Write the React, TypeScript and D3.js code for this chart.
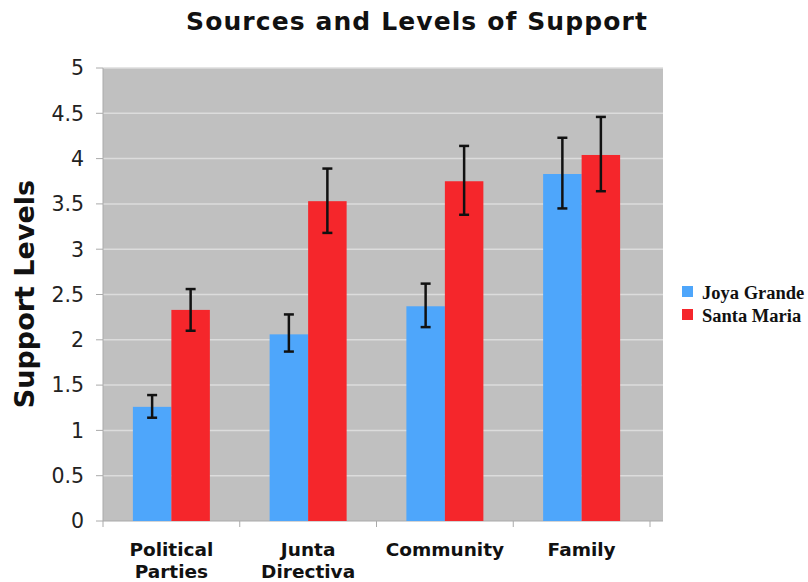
import React from "react";
import * as d3 from "d3";

const categories = ["Political Parties", "Junta Directiva", "Community", "Family"];
const categoryLines = [["Political", "Parties"], ["Junta", "Directiva"], ["Community"], ["Family"]];
const seriesNames = ["Joya Grande", "Santa Maria"];
const joyaGrande = [1.26, 2.06, 2.37, 3.83];
const santaMaria = [2.33, 3.53, 3.75, 4.04];
const joyaLow = [1.14, 1.87, 2.14, 3.45];
const joyaHigh = [1.39, 2.28, 2.62, 4.23];
const santaLow = [2.1, 3.18, 3.38, 3.64];
const santaHigh = [2.56, 3.89, 4.14, 4.46];
const yTicks = [0, 0.5, 1, 1.5, 2, 2.5, 3, 3.5, 4, 4.5, 5];
const colors = ["#4ea6fb", "#f5262b"];

export default function App() {
  const W = 808, H = 582;
  const left = 103, right = 650, plotRight = 663, top = 68, bottom = 521;
  const x = d3.scaleBand().domain(categories).range([left, right]).padding(0);
  const y = d3.scaleLinear().domain([0, 5]).range([bottom, top]);
  const barW = 38.5;
  const series = [
    { name: seriesNames[0], vals: joyaGrande, lo: joyaLow, hi: joyaHigh },
    { name: seriesNames[1], vals: santaMaria, lo: santaLow, hi: santaHigh },
  ];
  const font = "Verdana, 'DejaVu Sans', sans-serif";
  const legendY = [292, 315];
  return (
    <svg width={W} height={H} style={{ position: "absolute", left: 0, top: 0, background: "#fff" }}>
      <text x={417} y={30} textAnchor="middle" fontFamily={font} fontWeight="bold" fontSize={25} letterSpacing={1.1} fill="#111">
        Sources and Levels of Support
      </text>
      <rect x={left} y={top} width={plotRight - left} height={bottom - top} fill="#c0c0c0" />
      {yTicks.map((t) => (
        <g key={t}>
          {t > 0 && <line x1={left} x2={plotRight} y1={y(t)} y2={y(t)} stroke="#dcdcdc" strokeWidth={1.5} />}
          <line x1={96} x2={left} y1={y(t)} y2={y(t)} stroke="#aaa" strokeWidth={1} />
          <text x={84} y={y(t)} dy="0.36em" textAnchor="end" fontFamily={font} fontSize={20.5} fill="#222">
            {String(t)}
          </text>
        </g>
      ))}
      <line x1={left} x2={left} y1={top} y2={bottom} stroke="#aaa" strokeWidth={1} />
      <line x1={left} x2={plotRight} y1={bottom} y2={bottom} stroke="#aaa" strokeWidth={1} />
      {categories.map((c, i) => (
        <line key={"t" + i} x1={x(c)!} x2={x(c)!} y1={bottom} y2={bottom + 6} stroke="#aaa" />
      ))}
      <line x1={right} x2={right} y1={bottom} y2={bottom + 6} stroke="#aaa" />
      {series.map((s, si) =>
        categories.map((c, i) => {
          const cx = x(c)! + x.bandwidth() / 2;
          const bx = cx - barW + si * barW;
          const mid = bx + barW / 2;
          return (
            <g key={si + "-" + i}>
              <rect x={bx} y={y(s.vals[i])} width={barW} height={bottom - y(s.vals[i])} fill={colors[si]} />
              <line x1={mid} x2={mid} y1={y(s.hi[i])} y2={y(s.lo[i])} stroke="#111" strokeWidth={2.5} />
              <line x1={mid - 5} x2={mid + 5} y1={y(s.hi[i])} y2={y(s.hi[i])} stroke="#111" strokeWidth={2.5} />
              <line x1={mid - 5} x2={mid + 5} y1={y(s.lo[i])} y2={y(s.lo[i])} stroke="#111" strokeWidth={2.5} />
            </g>
          );
        })
      )}
      {categories.map((c, i) => (
        <text key={"l" + i} x={x(c)! + x.bandwidth() / 2} y={556} textAnchor="middle" fontFamily={font} fontWeight="bold" fontSize={18.5} fill="#111">
          {categoryLines[i].map((ln, k) => (
            <tspan key={k} x={x(c)! + x.bandwidth() / 2} dy={k === 0 ? 0 : 22}>{ln}</tspan>
          ))}
        </text>
      ))}
      <text transform={`translate(34, 294) rotate(-90)`} textAnchor="middle" fontFamily={font} fontWeight="bold" fontSize={27} fill="#111">
        Support Levels
      </text>
      {series.map((s, si) => (
        <g key={"lg" + si}>
          <rect x={682} y={legendY[si] - 6} width={11} height={11} fill={colors[si]} />
          <text x={702} y={legendY[si] + 7} fontFamily="'Liberation Serif', 'DejaVu Serif', serif" fontWeight="bold" fontSize={18.5} fill="#111">
            {s.name}
          </text>
        </g>
      ))}
    </svg>
  );
}
